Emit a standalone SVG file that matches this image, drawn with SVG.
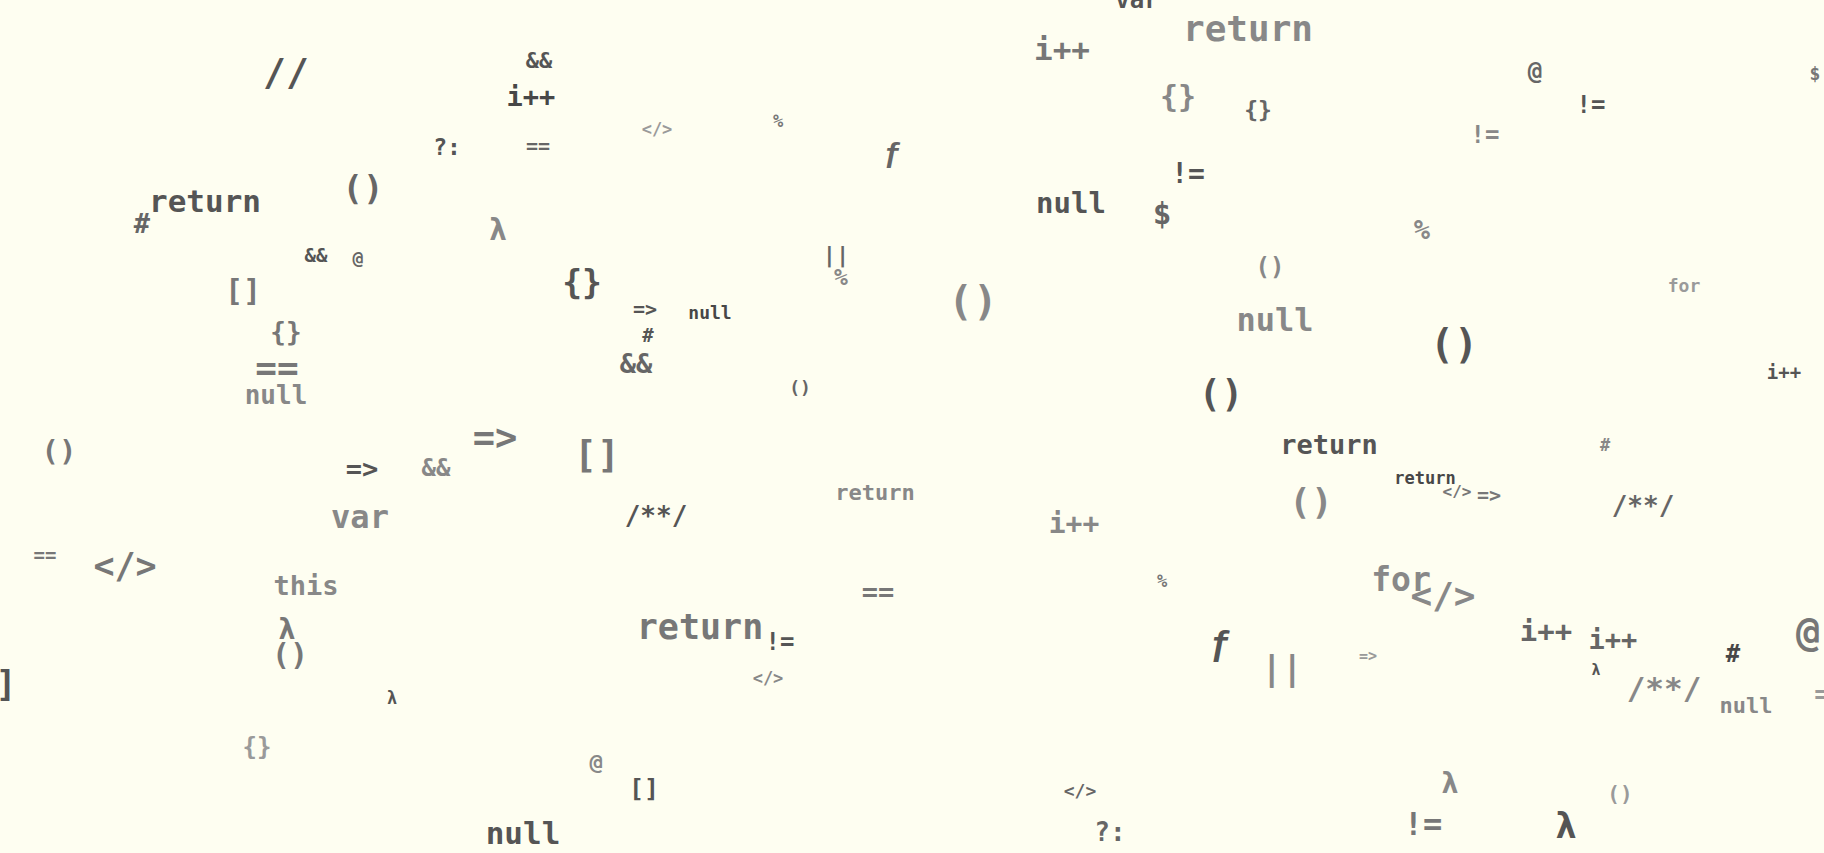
<svg xmlns="http://www.w3.org/2000/svg" width="1824" height="853" viewBox="0 0 1824 853">
<style>
text{font-family:"DejaVu Sans Mono","Liberation Mono",monospace;text-anchor:middle;font-weight:bold}
.fn{font-family:"Liberation Mono","Noto Sans",monospace}
.c4{fill:#474747}.c5{fill:#555}.c6{fill:#666}.c7{fill:#777}.c8{fill:#888}.c9{fill:#9a9a9a}
</style>
<rect width="1824" height="853" fill="#fefef1"/>
<g id="tokens">
<text class="c5" x="286" y="85" font-size="38">//</text>
<text class="c5" x="205" y="212" font-size="31">return</text>
<text class="c6" x="142" y="233" font-size="27">#</text>
<text class="c6" x="363" y="200" font-size="34">()</text>
<text class="c5" x="447" y="155" font-size="23">?:</text>
<text class="c5" x="316" y="262" font-size="19">&amp;&amp;</text>
<text class="c6" x="358" y="264" font-size="18">@</text>
<text class="c7" x="243" y="301" font-size="30">[]</text>
<text class="c7" x="286" y="341" font-size="26">{}</text>
<text class="c7" x="277" y="380" font-size="36">==</text>
<text class="c8" x="276" y="404" font-size="26">null</text>

<text class="c5" x="539" y="68" font-size="22">&amp;&amp;</text>
<text class="c4" x="531" y="106" font-size="27">i++</text>
<text class="c6" x="538" y="153" font-size="20">==</text>
<text class="c9" x="657" y="135" font-size="17">&lt;/&gt;</text>
<text class="c7" x="778" y="127" font-size="17">%</text>
<text class="c6 fn" x="893" y="162" font-size="30">ƒ</text>
<text class="c8" x="498" y="240" font-size="30">λ</text>
<text class="c6" x="836" y="262" font-size="22">||</text>
<text class="c8" x="841" y="285" font-size="23">%</text>
<text class="c5" x="582" y="294" font-size="33">{}</text>
<text class="c5" x="645" y="316" font-size="20">=&gt;</text>
<text class="c4" x="710" y="319" font-size="18">null</text>
<text class="c5" x="648" y="342" font-size="19">#</text>
<text class="c6" x="636" y="373" font-size="27">&amp;&amp;</text>
<text class="c6" x="800" y="394" font-size="18">()</text>

<text class="c8" x="973" y="315" font-size="41">()</text>
<text class="c5" x="1137" y="8" font-size="24">var</text>
<text class="c8" x="1248" y="41" font-size="36">return</text>
<text class="c7" x="1062" y="60" font-size="31">i++</text>
<text class="c8" x="1178" y="107" font-size="30">{}</text>
<text class="c6" x="1258" y="118" font-size="23">{}</text>
<text class="c5" x="1188" y="183" font-size="28">!=</text>
<text class="c5" x="1071" y="213" font-size="29">null</text>
<text class="c6" x="1162" y="224" font-size="31">$</text>
<text class="c8" x="1270" y="275" font-size="24">()</text>
<text class="c8" x="1275" y="331" font-size="32">null</text>
<text class="c5" x="1221" y="407" font-size="37">()</text>

<text class="c6" x="1535" y="79" font-size="24">@</text>
<text class="c7" x="1815" y="80" font-size="18">$</text>
<text class="c5" x="1591" y="113" font-size="24">!=</text>
<text class="c8" x="1485" y="143" font-size="24">!=</text>
<text class="c8" x="1422" y="239" font-size="27">%</text>
<text class="c9" x="1684" y="292" font-size="18">for</text>
<text class="c5" x="1454" y="358" font-size="40">()</text>
<text class="c5" x="1784" y="379" font-size="19">i++</text>

<text class="c7" x="59" y="461" font-size="29">()</text>
<text class="c5" x="362" y="478" font-size="27">=&gt;</text>
<text class="c8" x="436" y="476" font-size="24">&amp;&amp;</text>
<text class="c8" x="360" y="528" font-size="32">var</text>
<text class="c7" x="45" y="562" font-size="19">==</text>
<text class="c7" x="125" y="578" font-size="35">&lt;/&gt;</text>
<text class="c8" x="306" y="595" font-size="27">this</text>
<text class="c7" x="287" y="639" font-size="29">λ</text>
<text class="c7" x="290" y="665" font-size="30">()</text>
<text class="c5" x="6" y="696" font-size="35">]</text>
<text class="c5" x="392" y="704" font-size="17">λ</text>
<text class="c9" x="257" y="755" font-size="24">{}</text>

<text class="c7" x="495" y="450" font-size="37">=&gt;</text>
<text class="c7" x="597" y="467" font-size="38">[]</text>
<text class="c8" x="875" y="500" font-size="22">return</text>
<text class="c5" x="656" y="525" font-size="26">/**/</text>
<text class="c7" x="878" y="601" font-size="27">==</text>
<text class="c7" x="700" y="639" font-size="35">return</text>
<text class="c5" x="780" y="650" font-size="24">!=</text>
<text class="c8" x="768" y="684" font-size="17">&lt;/&gt;</text>
<text class="c8" x="596" y="770" font-size="22">@</text>
<text class="c5" x="644" y="797" font-size="25">[]</text>
<text class="c5" x="523" y="844" font-size="31">null</text>

<text class="c5" x="1329" y="454" font-size="27">return</text>
<text class="c8" x="1311" y="514" font-size="36">()</text>
<text class="c8" x="1074" y="533" font-size="28">i++</text>
<text class="c7" x="1162" y="587" font-size="17">%</text>
<text class="c5 fn" x="1221" y="654" font-size="36">ƒ</text>
<text class="c8" x="1282" y="680" font-size="34">||</text>
<text class="c9" x="1368" y="661" font-size="15">=&gt;</text>
<text class="c6" x="1080" y="797" font-size="18">&lt;/&gt;</text>
<text class="c6" x="1110" y="841" font-size="26">?:</text>

<text class="c8" x="1605" y="451" font-size="17">#</text>
<text class="c4" x="1425" y="484" font-size="17">return</text>
<text class="c7" x="1457" y="497" font-size="16">&lt;/&gt;</text>
<text class="c7" x="1489" y="502" font-size="20">=&gt;</text>
<text class="c6" x="1643" y="515" font-size="26">/**/</text>
<text class="c8" x="1401" y="591" font-size="33">for</text>
<text class="c8" x="1443" y="608" font-size="36">&lt;/&gt;</text>
<text class="c6" x="1546" y="641" font-size="29">i++</text>
<text class="c6" x="1613" y="649" font-size="27">i++</text>
<text class="c5" x="1596" y="675" font-size="15">λ</text>
<text class="c4" x="1733" y="662" font-size="24">#</text>
<text class="c7" x="1808" y="646" font-size="40">@</text>
<text class="c8" x="1664" y="699" font-size="31">/**/</text>
<text class="c8" x="1746" y="713" font-size="22">null</text>
<text class="c9" x="1822" y="703" font-size="26">=</text>
<text class="c8" x="1450" y="793" font-size="29">λ</text>
<text class="c7" x="1423" y="835" font-size="32">!=</text>
<text class="c5" x="1566" y="838" font-size="36">λ</text>
<text class="c9" x="1620" y="801" font-size="21">()</text>
</g>
</svg>
